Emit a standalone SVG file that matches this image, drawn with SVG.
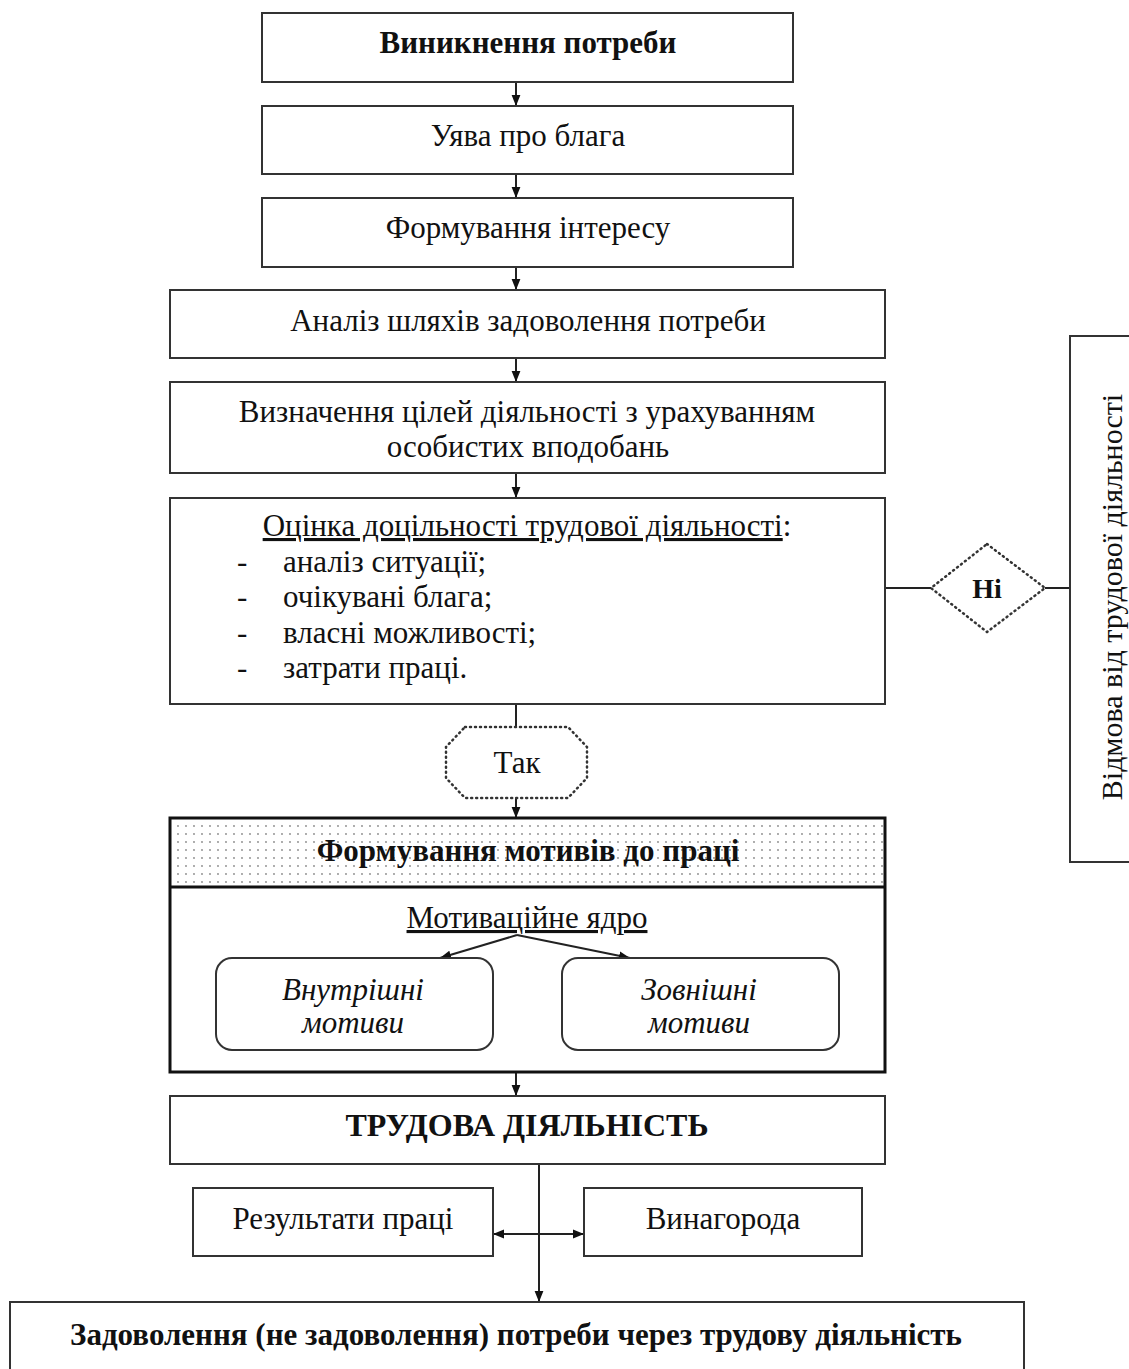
<svg xmlns="http://www.w3.org/2000/svg" width="1129" height="1369" viewBox="0 0 1129 1369">
<defs>
<style>
.box{fill:#fff;stroke:#333;stroke-width:2}
.thick{fill:none;stroke:#111;stroke-width:3}
.t{font-family:"Liberation Serif","Times New Roman","DejaVu Serif",serif;font-size:31px;fill:#111;text-anchor:middle}
.b{font-weight:bold}
.i{font-style:italic}
.ln{stroke:#222;stroke-width:2;fill:none}
.dot{fill:none;stroke:#333;stroke-width:2.5;stroke-dasharray:1 4;stroke-linecap:round}
</style>
<marker id="ah2" viewBox="0 0 10 10" refX="10" refY="5" markerWidth="11" markerHeight="11" markerUnits="userSpaceOnUse" orient="auto-start-reverse">
<path d="M0,1 L10,5 L0,9 z" fill="#111"/>
</marker>
<pattern id="dots" width="8" height="8" patternUnits="userSpaceOnUse">
<rect width="8" height="8" fill="#fff"/>
<circle cx="2" cy="2" r="0.9" fill="#888"/>
</pattern>
</defs>
<rect width="1129" height="1369" fill="#fff"/>

<g id="connectors">
<line class="ln" x1="516" y1="82" x2="516" y2="106" marker-end="url(#ah2)"/>
<line class="ln" x1="516" y1="174" x2="516" y2="198" marker-end="url(#ah2)"/>
<line class="ln" x1="516" y1="267" x2="516" y2="290" marker-end="url(#ah2)"/>
<line class="ln" x1="516" y1="358" x2="516" y2="382" marker-end="url(#ah2)"/>
<line class="ln" x1="516" y1="473" x2="516" y2="498" marker-end="url(#ah2)"/>
<line class="ln" x1="516" y1="704" x2="516" y2="727"/>
<line class="ln" x1="516" y1="798" x2="516" y2="818" marker-end="url(#ah2)"/>
<line class="ln" x1="516" y1="1072" x2="516" y2="1096" marker-end="url(#ah2)"/>
<line class="ln" x1="517" y1="935" x2="440" y2="958" marker-end="url(#ah2)"/>
<line class="ln" x1="517" y1="935" x2="630" y2="958" marker-end="url(#ah2)"/>
<line class="ln" x1="539" y1="1164" x2="539" y2="1302" marker-end="url(#ah2)"/>
<line class="ln" x1="493" y1="1234" x2="584" y2="1234" marker-start="url(#ah2)" marker-end="url(#ah2)"/>
<line class="ln" x1="885" y1="588" x2="931" y2="588"/>
<line class="ln" x1="1045" y1="588" x2="1070" y2="588"/>
</g>

<g id="n1">
<rect class="box" x="262" y="13" width="531" height="69"/>
<text class="t b" x="528" y="53">Виникнення потреби</text>
</g>
<g id="n2">
<rect class="box" x="262" y="106" width="531" height="68"/>
<text class="t" x="528" y="146">Уява про блага</text>
</g>
<g id="n3">
<rect class="box" x="262" y="198" width="531" height="69"/>
<text class="t" x="528" y="238">Формування інтересу</text>
</g>
<g id="n4">
<rect class="box" x="170" y="290" width="715" height="68"/>
<text class="t" x="528" y="331">Аналіз шляхів задоволення потреби</text>
</g>
<g id="n5">
<rect class="box" x="170" y="382" width="715" height="91"/>
<text class="t" x="527" y="422">Визначення цілей діяльності з урахуванням</text>
<text class="t" x="528" y="457">особистих вподобань</text>
</g>
<g id="n6">
<rect class="box" x="170" y="498" width="715" height="206"/>
<text class="t" x="527" y="536"><tspan text-decoration="underline">Оцінка доцільності трудової діяльності</tspan>:</text>
<g class="t" style="text-anchor:start">
<text x="237" y="572">-</text><text x="283" y="572">аналіз ситуації;</text>
<text x="237" y="607">-</text><text x="283" y="607">очікувані блага;</text>
<text x="237" y="643">-</text><text x="283" y="643">власні можливості;</text>
<text x="237" y="678">-</text><text x="283" y="678">затрати праці.</text>
</g>
</g>
<g id="tak">
<path class="dot" d="M465,727 L568,727 L587,747 L587,778 L568,798 L465,798 L446,778 L446,747 Z"/>
<text class="t" x="517" y="773">Так</text>
</g>
<g id="ni">
<path class="dot" d="M987,544 L1045,588 L987,632 L931,588 Z"/>
<text class="t b" x="987" y="598" style="font-size:28px">Ні</text>
</g>
<g id="refuse">
<rect class="box" x="1070" y="336" width="70" height="526"/>
<text class="t" transform="translate(1122,597) rotate(-90)" style="font-size:30px">Відмова від трудової діяльності</text>
</g>
<g id="motives">
<rect x="170" y="818" width="715" height="69" fill="url(#dots)"/>
<rect class="thick" x="170" y="818" width="715" height="254"/>
<line class="thick" x1="170" y1="887" x2="885" y2="887"/>
<text class="t b" x="528" y="861">Формування мотивів до праці</text>
<text class="t" x="527" y="928" text-decoration="underline">Мотиваційне ядро</text>
</g>
<g id="inner">
<rect class="box" x="216" y="958" width="277" height="92" rx="16"/>
<text class="t i" x="353" y="1000">Внутрішні</text>
<text class="t i" x="353" y="1033">мотиви</text>
</g>
<g id="outer">
<rect class="box" x="562" y="958" width="277" height="92" rx="16"/>
<text class="t i" x="699" y="1000">Зовнішні</text>
<text class="t i" x="699" y="1033">мотиви</text>
</g>
<g id="labor">
<rect class="box" x="170" y="1096" width="715" height="68"/>
<text class="t b" x="527" y="1136" style="font-size:32px">ТРУДОВА ДІЯЛЬНІСТЬ</text>
</g>
<g id="results">
<rect class="box" x="193" y="1188" width="300" height="68"/>
<text class="t" x="343" y="1229">Результати праці</text>
</g>
<g id="reward">
<rect class="box" x="584" y="1188" width="278" height="68"/>
<text class="t" x="723" y="1229">Винагорода</text>
</g>
<g id="final">
<rect class="box" x="10" y="1302" width="1014" height="80"/>
<text class="t b" x="516" y="1345">Задоволення (не задоволення) потреби через трудову діяльність</text>
</g>
</svg>
